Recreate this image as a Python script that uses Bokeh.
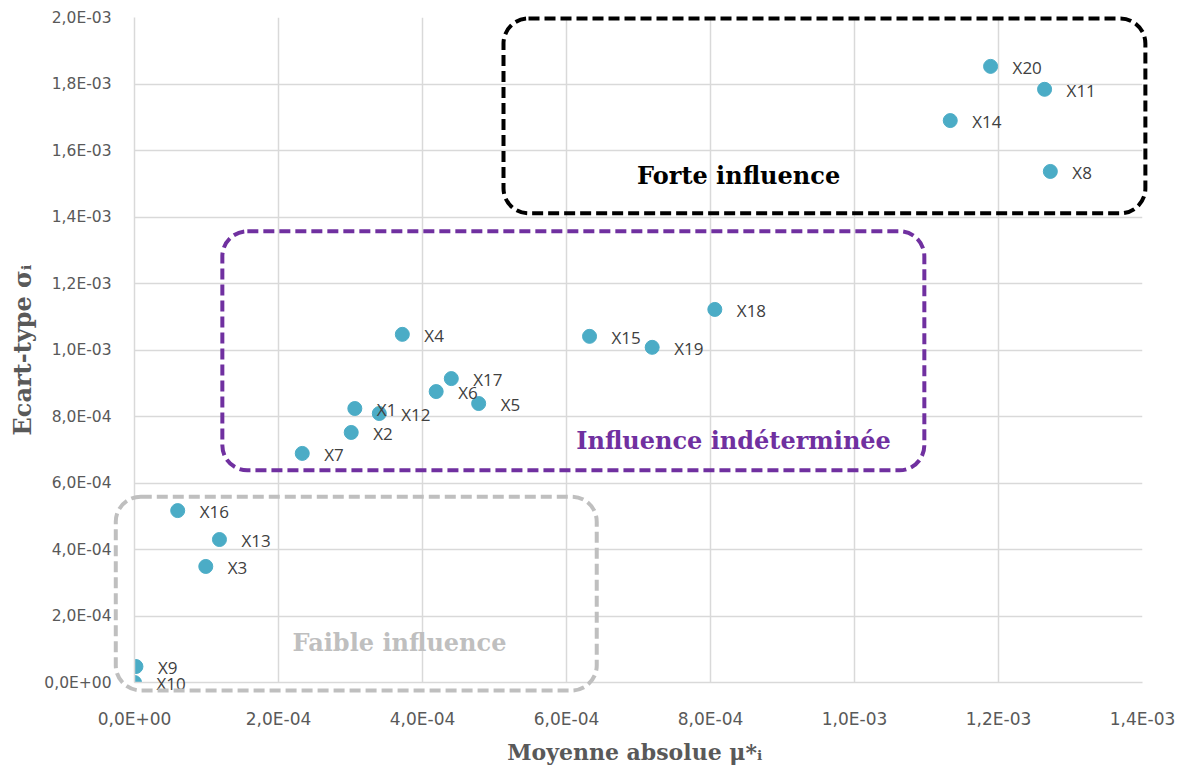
from bokeh.plotting import figure
from bokeh.models import (ColumnDataSource, FixedTicker, CustomJSTickFormatter,
                          BoxAnnotation, Label, Range1d)
from bokeh.core.properties import value
from bokeh.embed import file_html
from bokeh.resources import INLINE

# ---- data ----
names = ["X1", "X2", "X3", "X4", "X5", "X6", "X7", "X8", "X9", "X10",
         "X11", "X12", "X13", "X14", "X15", "X16", "X17", "X18", "X19", "X20"]
mu_star = [3.06e-4, 3.01e-4, 0.99e-4, 3.72e-4, 4.78e-4, 4.19e-4, 2.33e-4, 1.272e-3, 0.02e-4, 0.0,
           1.264e-3, 3.40e-4, 1.18e-4, 1.133e-3, 6.32e-4, 0.60e-4, 4.40e-4, 8.06e-4, 7.19e-4, 1.189e-3]
sigma = [8.24e-4, 7.52e-4, 3.49e-4, 1.047e-3, 8.39e-4, 8.75e-4, 6.89e-4, 1.537e-3, 0.48e-4, 0.0,
         1.784e-3, 8.09e-4, 4.30e-4, 1.690e-3, 1.041e-3, 5.17e-4, 9.14e-4, 1.122e-3, 1.008e-3, 1.853e-3]

x_ticks = [0, 2e-4, 4e-4, 6e-4, 8e-4, 1.0e-3, 1.2e-3, 1.4e-3]
y_ticks = [0, 2e-4, 4e-4, 6e-4, 8e-4, 1.0e-3, 1.2e-3, 1.4e-3, 1.6e-3, 1.8e-3, 2.0e-3]

# group boxes (left, right, bottom, top) and their captions
box_left = [5.125e-4, 1.22e-4, -0.26e-4]
box_right = [1.404e-3, 1.097e-3, 6.42e-4]
box_bottom = [1.411e-3, 6.38e-4, -0.24e-4]
box_top = [1.997e-3, 1.357e-3, 5.59e-4]
box_colors = ["black", "#7030A0", "#BFBFBF"]
box_text = ["Forte influence", "Influence indéterminée", "Faible influence"]
text_x = [8.39e-4, 8.32e-4, 3.68e-4]
text_y = [1.525e-3, 0.728e-3, 0.120e-3]

src = ColumnDataSource(dict(x=mu_star, y=sigma, name=names))

W, H = 1180, 768
p = figure(width=W, height=H, output_backend="svg", toolbar_location=None,
           x_range=Range1d(0, 1.4e-3), y_range=Range1d(0, 2.0e-3),
           min_border_left=134, min_border_right=W - 1142, min_border_top=17,
           min_border_bottom=H - 682)
p.outline_line_color = None
p.background_fill_color = "white"
p.border_fill_color = "white"

fmt = CustomJSTickFormatter(code="""
var s = tick.toExponential(1); var parts = s.split('e');
var m = parts[0].replace('.', ','); var e = parseInt(parts[1]);
var sign = e < 0 ? '-' : '+'; var a = Math.abs(e);
return m + 'E' + sign + (a < 10 ? '0' : '') + a;
""")

for ax in (p.xaxis[0], p.yaxis[0]):
    ax.formatter = fmt
    ax.major_tick_line_color = None
    ax.minor_tick_line_color = None
    ax.axis_line_color = "#D9D9D9"
    ax.axis_line_width = 1.5
    ax.major_label_text_color = "#595959"
    ax.major_label_text_font = "DejaVu Sans"
    ax.axis_label_text_color = "#595959"
    ax.axis_label_text_font = "DejaVu Serif"
    ax.axis_label_text_font_style = "bold"

p.xaxis[0].ticker = FixedTicker(ticks=x_ticks)
p.yaxis[0].ticker = FixedTicker(ticks=y_ticks)
p.xaxis[0].major_label_text_font_size = "17px"
p.yaxis[0].major_label_text_font_size = "15.5px"
p.xaxis[0].axis_label_text_font_size = "22px"
p.yaxis[0].axis_label_text_font_size = "24px"
p.xaxis[0].major_label_standoff = 20
p.yaxis[0].major_label_standoff = 17
p.xaxis[0].axis_label_standoff = 7
p.yaxis[0].axis_label_standoff = 4
p.xaxis[0].axis_label = "Moyenne absolue  μ*ᵢ"
p.yaxis[0].axis_label = "Ecart-type σᵢ"

p.xgrid.ticker = FixedTicker(ticks=x_ticks)
p.ygrid.ticker = FixedTicker(ticks=y_ticks)
p.grid.grid_line_color = "#D9D9D9"
p.grid.grid_line_width = 1.5

p.scatter("x", "y", source=src, size=14, color="#4BACC6", line_color="#4BACC6")
tr = p.text("x", "y", text="name", source=src, x_offset=22, y_offset=1,
            text_baseline="middle", text_align="left", text_font=value("Open Sans"),
            text_font_size="17px", text_color="#404040")
tr.level = "overlay"

# ---- grouping boxes ----
bsrc = ColumnDataSource(dict(left=box_left, right=box_right, bottom=box_bottom,
                             top=box_top, color=box_colors))
try:
    qr = p.quad(left="left", right="right", bottom="bottom", top="top", source=bsrc,
                fill_color=None, line_color="color", line_width=4, line_dash="11 5",
                border_radius=25)
    qr.level = "overlay"
except Exception:
    for l, r, b, t, c in zip(box_left, box_right, box_bottom, box_top, box_colors):
        p.add_layout(BoxAnnotation(left=l, right=r, bottom=b, top=t, fill_alpha=0,
                                   line_color=c, line_alpha=1, line_width=4,
                                   line_dash="11 5", border_radius=25, level="overlay"))

for t, x, y, c in zip(box_text, text_x, text_y, box_colors):
    p.add_layout(Label(x=x, y=y, text=t, text_align="center", text_baseline="middle",
                       text_font="DejaVu Serif", text_font_style="bold",
                       text_font_size="24px", text_color=c))

open("out.html", "w").write(file_html(p, INLINE))
